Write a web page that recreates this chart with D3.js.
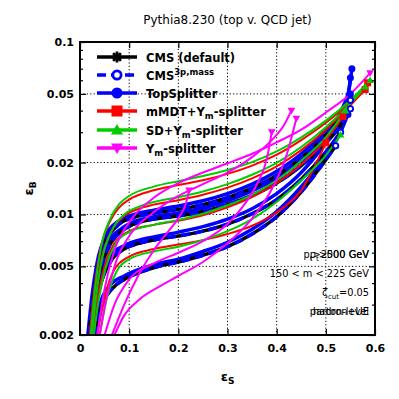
<!DOCTYPE html>
<html>
<head>
<meta charset="utf-8">
<script src="https://cdn.jsdelivr.net/npm/d3@7"></script>
<style>
  body { margin: 0; background: #fff; }
  svg { display: block; font-family: "DejaVu Sans", sans-serif; }
  .tick-label { font-size: 11px; font-weight: bold; }
  .grid { stroke: #000; stroke-width: 1; stroke-dasharray: 1.2 2.2; }
</style>
</head>
<body>
<svg id="chart" width="399" height="399"></svg>
<script>
// ROC curves, points are [eps_S, eps_B]
var cmsCurves = [
  [[0.030,0.002],[0.045,0.0030],[0.065,0.0037],[0.09,0.0042],[0.12,0.0046],[0.16,0.0050],[0.2,0.0053],[0.25,0.0058],[0.3,0.0065],[0.35,0.0077],[0.4,0.0097],[0.45,0.0135],[0.49,0.019],[0.52,0.025]],
  [[0.022,0.002],[0.032,0.0030],[0.045,0.0042],[0.065,0.0055],[0.09,0.0063],[0.12,0.0068],[0.16,0.0072],[0.2,0.0075],[0.25,0.0080],[0.3,0.0088],[0.35,0.0101],[0.4,0.0122],[0.45,0.0160],[0.5,0.023],[0.53,0.030]],
  [[0.018,0.002],[0.026,0.0032],[0.037,0.0050],[0.055,0.0072],[0.08,0.0088],[0.11,0.0096],[0.15,0.0102],[0.2,0.0107],[0.25,0.0114],[0.3,0.0125],[0.35,0.0142],[0.4,0.0168],[0.45,0.0212],[0.5,0.029],[0.53,0.037],[0.55,0.046]],
  [[0.020,0.002],[0.029,0.0031],[0.041,0.0047],[0.06,0.0066],[0.085,0.0080],[0.11,0.0088],[0.15,0.0094],[0.2,0.0098],[0.25,0.0104],[0.3,0.0114],[0.35,0.0129],[0.4,0.0152],[0.45,0.0192],[0.5,0.026],[0.53,0.033],[0.55,0.041]]
];
var cms3pCurves = [
  [[0.030,0.002],[0.045,0.0030],[0.065,0.0037],[0.09,0.0042],[0.12,0.0046],[0.16,0.0050],[0.2,0.0053],[0.25,0.0058],[0.3,0.0065],[0.35,0.0077],[0.4,0.0097],[0.45,0.0135],[0.49,0.019],[0.52,0.025]],
  [[0.022,0.002],[0.032,0.0030],[0.045,0.0042],[0.065,0.0055],[0.09,0.0063],[0.12,0.0068],[0.16,0.0072],[0.2,0.0075],[0.25,0.0080],[0.3,0.0088],[0.35,0.0101],[0.4,0.0122],[0.45,0.0160],[0.5,0.023],[0.53,0.030]],
  [[0.018,0.002],[0.026,0.0032],[0.037,0.0050],[0.055,0.0072],[0.08,0.0088],[0.11,0.0096],[0.15,0.0102],[0.2,0.0107],[0.25,0.0114],[0.3,0.0125],[0.35,0.0142],[0.4,0.0168],[0.45,0.0212],[0.5,0.029],[0.53,0.037],[0.55,0.046]],
  [[0.020,0.002],[0.029,0.0031],[0.041,0.0047],[0.06,0.0066],[0.085,0.0080],[0.11,0.0088],[0.15,0.0094],[0.2,0.0098],[0.25,0.0104],[0.3,0.0114],[0.35,0.0129],[0.4,0.0152],[0.45,0.0192],[0.5,0.026],[0.53,0.033],[0.55,0.041]]
];
var topSplitterCurves = [
  [[0.028,0.002],[0.042,0.0031],[0.062,0.0039],[0.09,0.0044],[0.12,0.0048],[0.16,0.0052],[0.2,0.0055],[0.25,0.0061],[0.3,0.0069],[0.35,0.0082],[0.4,0.0104],[0.45,0.0145],[0.5,0.022],[0.53,0.030],[0.545,0.038]],
  [[0.020,0.002],[0.030,0.0031],[0.043,0.0045],[0.063,0.0058],[0.09,0.0066],[0.12,0.0071],[0.16,0.0075],[0.2,0.0079],[0.25,0.0085],[0.3,0.0094],[0.35,0.0108],[0.4,0.0132],[0.45,0.0175],[0.5,0.026],[0.535,0.036],[0.55,0.050]],
  [[0.016,0.002],[0.024,0.0033],[0.035,0.0053],[0.053,0.0076],[0.08,0.0092],[0.11,0.0100],[0.15,0.0106],[0.2,0.0112],[0.25,0.0120],[0.3,0.0132],[0.35,0.0150],[0.4,0.0178],[0.45,0.0225],[0.5,0.031],[0.535,0.042],[0.548,0.055],[0.553,0.070]],
  [[0.018,0.002],[0.027,0.0032],[0.039,0.0049],[0.058,0.0069],[0.085,0.0083],[0.11,0.0091],[0.15,0.0097],[0.2,0.0102],[0.25,0.0109],[0.3,0.0120],[0.35,0.0137],[0.4,0.0162],[0.45,0.0205],[0.5,0.028],[0.53,0.037],[0.545,0.048],[0.55,0.062]]
];
var mmdtCurves = [
  [[0.035,0.002],[0.05,0.0033],[0.07,0.0048],[0.1,0.0057],[0.15,0.0063],[0.2,0.0067],[0.25,0.0071],[0.3,0.0077],[0.35,0.0086],[0.4,0.0103],[0.45,0.0138],[0.5,0.026]],
  [[0.025,0.002],[0.035,0.0032],[0.05,0.0050],[0.07,0.0068],[0.1,0.0080],[0.15,0.0087],[0.2,0.0092],[0.25,0.0099],[0.3,0.0110],[0.35,0.0126],[0.4,0.0152],[0.45,0.0195],[0.5,0.027],[0.535,0.037]],
  [[0.020,0.002],[0.028,0.0035],[0.04,0.0060],[0.06,0.0090],[0.08,0.0110],[0.1,0.0122],[0.15,0.0138],[0.2,0.0148],[0.25,0.0158],[0.3,0.0172],[0.35,0.0192],[0.4,0.0222],[0.45,0.027],[0.5,0.034],[0.55,0.045],[0.585,0.058]],
  [[0.022,0.002],[0.031,0.0034],[0.044,0.0056],[0.064,0.0080],[0.09,0.0098],[0.12,0.0108],[0.15,0.0114],[0.2,0.0121],[0.25,0.0130],[0.3,0.0143],[0.35,0.0162],[0.4,0.0190],[0.45,0.0236],[0.5,0.031],[0.55,0.043],[0.58,0.053]]
];
var sdCurves = [
  [[0.040,0.002],[0.055,0.0033],[0.075,0.0047],[0.1,0.0055],[0.15,0.0061],[0.2,0.0065],[0.25,0.0071],[0.3,0.0080],[0.35,0.0094],[0.4,0.0118],[0.45,0.0158],[0.5,0.022],[0.53,0.029]],
  [[0.028,0.002],[0.038,0.0032],[0.053,0.0050],[0.073,0.0068],[0.1,0.0079],[0.15,0.0087],[0.2,0.0093],[0.25,0.0101],[0.3,0.0113],[0.35,0.0130],[0.4,0.0158],[0.45,0.0205],[0.5,0.028],[0.54,0.040]],
  [[0.022,0.002],[0.030,0.0036],[0.042,0.0063],[0.062,0.0095],[0.08,0.0115],[0.1,0.0128],[0.15,0.0145],[0.2,0.0156],[0.25,0.0167],[0.3,0.0181],[0.35,0.0201],[0.4,0.0232],[0.45,0.028],[0.5,0.035],[0.55,0.046],[0.59,0.060]],
  [[0.024,0.002],[0.033,0.0034],[0.046,0.0057],[0.066,0.0082],[0.09,0.0100],[0.12,0.0111],[0.15,0.0118],[0.2,0.0126],[0.25,0.0136],[0.3,0.0150],[0.35,0.0170],[0.4,0.0199],[0.45,0.0246],[0.5,0.032],[0.55,0.044],[0.58,0.055]]
];
var ymCurves = [
  [[0.070,0.002],[0.09,0.0026],[0.12,0.0032],[0.16,0.0038],[0.2,0.0044],[0.25,0.0053],[0.3,0.0068],[0.35,0.0095],[0.39,0.014],[0.42,0.022],[0.44,0.036]],
  [[0.065,0.002],[0.09,0.0030],[0.12,0.0045],[0.15,0.0062],[0.18,0.0080],[0.2,0.0095],[0.215,0.0115],[0.222,0.0138]],
  [[0.035,0.002],[0.05,0.0037],[0.07,0.0062],[0.1,0.0090],[0.15,0.0125],[0.2,0.0152],[0.25,0.0175],[0.3,0.0198],[0.35,0.0225],[0.4,0.0262],[0.45,0.031],[0.5,0.039],[0.55,0.050],[0.59,0.066]],
  [[0.040,0.002],[0.055,0.0034],[0.075,0.0055],[0.1,0.0075],[0.15,0.0103],[0.2,0.0128],[0.25,0.0150],[0.3,0.0175],[0.35,0.0215],[0.39,0.027],[0.415,0.033],[0.43,0.040]],
  [[0.050,0.002],[0.07,0.0030],[0.1,0.0042],[0.15,0.0052],[0.2,0.0060],[0.25,0.0070],[0.3,0.0088],[0.33,0.0110],[0.36,0.0150],[0.38,0.021],[0.39,0.030]]
];

var legendLabels = ['CMS (default)', 'CMS3p', 'TopSplitter', 'mMDT+Y', 'SD+Y', 'Y'];
var xTicks = [0, 0.1, 0.2, 0.3, 0.4, 0.5, 0.6];
var yTicks = [0.002, 0.005, 0.01, 0.02, 0.05, 0.1];
var yMinorTicks = [0.003, 0.004, 0.006, 0.007, 0.008, 0.009, 0.03, 0.04, 0.06, 0.07, 0.08, 0.09];
var infoLines = [['pt>2000 GeV', 'pt>500 GeV'], ['150 < m < 225 GeV'], ['zcut'], ['parton-level', 'hadron+UE']];

var svg = d3.select('#chart');
var pL = 80, pR = 375, pT = 42, pB = 335;
var x = d3.scaleLinear().domain([0, 0.6]).range([pL, pR]);
var y = d3.scaleLog().domain([0.002, 0.1]).range([pB, pT]);

var series = [
  {curves: topSplitterCurves, color: '#0000ff', width: 3.5, dash: null, marker: 'dot'},
  {curves: cmsCurves, color: '#000', width: 3.5, dash: null, marker: 'star'},
  {curves: cms3pCurves, color: '#0000ff', width: 3.5, dash: '9 5', marker: 'ring'},
  {curves: mmdtCurves, color: '#ff0000', width: 2, dash: null, marker: 'square'},
  {curves: sdCurves, color: '#00cc00', width: 2, dash: null, marker: 'tri'},
  {curves: ymCurves, color: '#ff00ff', width: 2, dash: null, marker: 'trid'}
];
var legendOrder = [1, 2, 0, 3, 4, 5];

// title
svg.append('text').attr('x', (pL + pR) / 2).attr('y', 24).attr('text-anchor', 'middle')
  .style('font-size', '12px').text('Pythia8.230 (top v. QCD jet)');

// grid
svg.selectAll('.gx').data(xTicks.slice(1, -1)).enter().append('line').attr('class', 'grid')
  .attr('x1', x).attr('x2', x).attr('y1', pT).attr('y2', pB);
svg.selectAll('.gy').data(yTicks.slice(1, -1)).enter().append('line').attr('class', 'grid')
  .attr('y1', y).attr('y2', y).attr('x1', pL).attr('x2', pR);

svg.append('clipPath').attr('id', 'clip').append('rect')
  .attr('x', pL).attr('y', pT).attr('width', pR - pL).attr('height', pB - pT);

var line = d3.line().x(function(d) { return x(d[0]); }).y(function(d) { return y(d[1]); })
  .curve(d3.curveMonotoneX);

function drawMarker(g, type, cx, cy, size, color) {
  var r = size / 2;
  if (type === 'dot') {
    g.append('circle').attr('cx', cx).attr('cy', cy).attr('r', r).attr('fill', color);
  } else if (type === 'ring') {
    g.append('circle').attr('cx', cx).attr('cy', cy).attr('r', r * 0.75).attr('fill', '#fff')
      .attr('stroke', color).attr('stroke-width', r * 0.5);
  } else if (type === 'square') {
    g.append('rect').attr('x', cx - r).attr('y', cy - r).attr('width', size).attr('height', size).attr('fill', color);
  } else if (type === 'tri') {
    g.append('path').attr('d', 'M' + cx + ',' + (cy - r * 1.1) + 'L' + (cx + r * 1.1) + ',' + (cy + r * 0.8) + 'L' + (cx - r * 1.1) + ',' + (cy + r * 0.8) + 'Z').attr('fill', color);
  } else if (type === 'trid') {
    g.append('path').attr('d', 'M' + cx + ',' + (cy + r * 1.1) + 'L' + (cx + r * 1.1) + ',' + (cy - r * 0.8) + 'L' + (cx - r * 1.1) + ',' + (cy - r * 0.8) + 'Z').attr('fill', color);
  } else {
    var p = '';
    [0, 45, 90, 135].forEach(function(a) {
      var dx = Math.cos(a * Math.PI / 180) * r, dy = Math.sin(a * Math.PI / 180) * r;
      p += 'M' + (cx - dx) + ',' + (cy - dy) + 'L' + (cx + dx) + ',' + (cy + dy);
    });
    g.append('path').attr('d', p).attr('stroke', color).attr('stroke-width', size / 4);
  }
}

var plot = svg.append('g').attr('clip-path', 'url(#clip)');
series.forEach(function(s) {
  plot.selectAll(null).data(s.curves).enter().append('path')
    .attr('d', line).attr('fill', 'none').attr('stroke', s.color)
    .attr('stroke-width', s.width).attr('stroke-dasharray', s.dash);
});
series.forEach(function(s) {
  s.curves.forEach(function(c) {
    var last = c[c.length - 1];
    drawMarker(plot, s.marker, x(last[0]), y(last[1]), 7, s.color);
  });
});

// frame, ticks
function tickAxis(axis, tf) {
  var g = svg.append('g').attr('transform', tf).call(axis);
  g.select('.domain').remove();
  g.selectAll('.tick line').attr('stroke', '#000').attr('stroke-width', 1.2);
  return g;
}
tickAxis(d3.axisBottom(x).tickValues(xTicks).tickSize(-6).tickPadding(9).tickFormat(d3.format('')), 'translate(0,' + pB + ')');
tickAxis(d3.axisTop(x).tickValues(xTicks).tickSize(-6).tickFormat(''), 'translate(0,' + pT + ')');
tickAxis(d3.axisLeft(y).tickValues(yTicks).tickSize(-6).tickPadding(6).tickFormat(d3.format('')), 'translate(' + pL + ',0)');
tickAxis(d3.axisLeft(y).tickValues(yMinorTicks).tickSize(-3).tickFormat(''), 'translate(' + pL + ',0)');
tickAxis(d3.axisRight(y).tickValues(yTicks).tickSize(-6).tickFormat(''), 'translate(' + pR + ',0)');
tickAxis(d3.axisRight(y).tickValues(yMinorTicks).tickSize(-3).tickFormat(''), 'translate(' + pR + ',0)');
svg.selectAll('.tick text').attr('fill', '#000').style('font-family', '"DejaVu Sans", sans-serif')
  .style('font-size', '11px').style('font-weight', 'bold');

svg.append('rect').attr('x', pL).attr('y', pT).attr('width', pR - pL).attr('height', pB - pT)
  .attr('fill', 'none').attr('stroke', '#000').attr('stroke-width', 2);

// axis titles
var xl = svg.append('text').attr('x', (pL + pR) / 2).attr('y', 381).attr('text-anchor', 'middle')
  .style('font-size', '13px').style('font-weight', 'bold');
xl.append('tspan').text('ε');
xl.append('tspan').attr('dy', 3).style('font-size', '9px').text('S');
var yl = svg.append('text').attr('transform', 'translate(33,' + ((pT + pB) / 2) + ') rotate(-90)')
  .attr('text-anchor', 'middle').style('font-size', '13px').style('font-weight', 'bold');
yl.append('tspan').text('ε');
yl.append('tspan').attr('dy', 3).style('font-size', '9px').text('B');

// legend
var legendY = [57, 75, 93, 111, 130, 148];
var lg = svg.append('g');
legendOrder.forEach(function(si, i) {
  var s = series[si], ly0 = legendY[i];
  lg.append('line').attr('x1', 97).attr('x2', 137).attr('y1', ly0).attr('y2', ly0)
    .attr('stroke', s.color).attr('stroke-width', 3.5).attr('stroke-dasharray', s.dash);
  drawMarker(lg, s.marker, 117, ly0, 11, s.color);
  var t = lg.append('text').attr('x', 146).attr('y', ly0 + 4.5).style('font-size', '11.5px').style('font-weight', 'bold');
  var lab = legendLabels[i];
  if (lab === 'CMS3p') {
    t.append('tspan').text('CMS');
    t.append('tspan').attr('dy', -5).style('font-size', '8.5px').text('3p,mass');
  } else if (lab === 'mMDT+Y' || lab === 'SD+Y' || lab === 'Y') {
    t.append('tspan').text(lab);
    t.append('tspan').attr('dy', 3).style('font-size', '8.5px').text('m');
    t.append('tspan').attr('dy', -3).text('-splitter');
  } else {
    t.text(lab);
  }
});

// info text, bottom right (two overlaid plots)
var infoY = [258, 277, 296, 315];
infoLines.forEach(function(ls, i) {
  ls.forEach(function(l) {
    var t = svg.append('text').attr('x', 369).attr('y', infoY[i]).attr('text-anchor', 'end').style('font-size', '9.8px');
    if (l.indexOf('pt>') === 0) {
      t.append('tspan').text('p');
      t.append('tspan').attr('dy', 2.5).style('font-size', '7px').text('t');
      t.append('tspan').attr('dy', -2.5).text(l.slice(2));
    } else if (l === 'zcut') {
      t.append('tspan').style('font-size', '11px').text('ζ');
      t.append('tspan').attr('dy', 2.5).style('font-size', '7px').text('cut');
      t.append('tspan').attr('dy', -2.5).text('=0.05');
    } else {
      t.text(l);
    }
  });
});
</script>
</body>
</html>
